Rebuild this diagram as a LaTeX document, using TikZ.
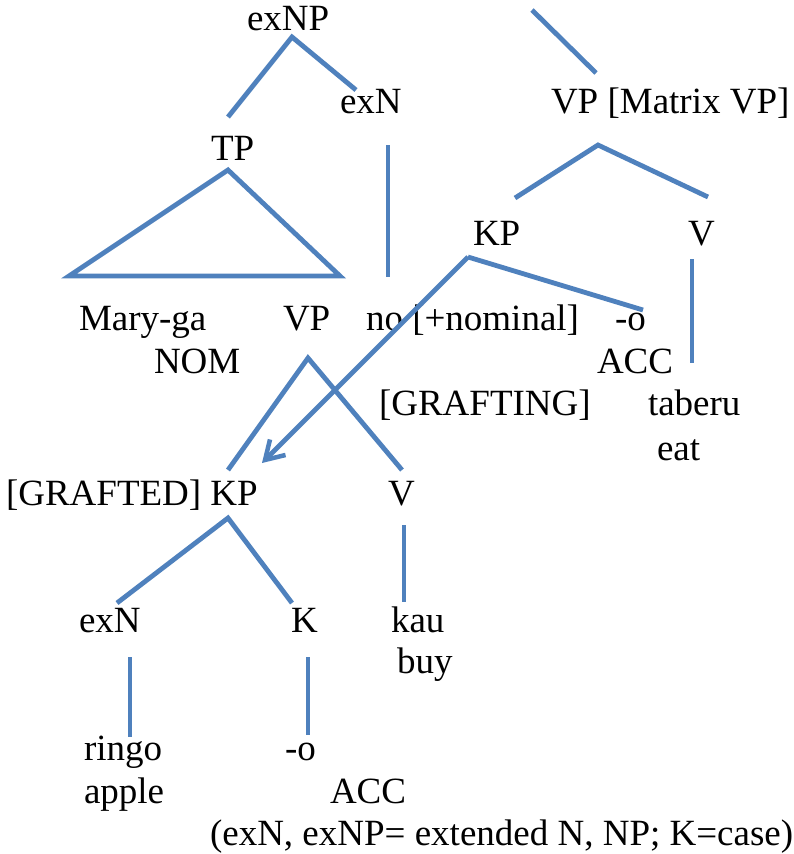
\documentclass[tikz,border=0pt]{standalone}
\usepackage{fontspec}
\setmainfont{Liberation Serif}
\usetikzlibrary{arrows.meta}
\definecolor{branch}{HTML}{4F81BD}
\tikzset{
  lbl/.style={anchor=base west, inner sep=0pt, outer sep=0pt, font=\fontsize{37}{44}\selectfont},
  br/.style={draw=branch, line width=4.8pt},
}
\begin{document}
\begin{tikzpicture}[x=1pt,y=-1pt]
\useasboundingbox[fill=white] (0,0) rectangle (794,854);
% labels
\node[lbl] (exNP) at (247,30) {exNP};
\node[lbl] (exNu) at (340,113) {exN};
\node[lbl] (VPm) at (551,113) {VP [Matrix VP]};
\node[lbl] (TP) at (211,160) {TP};
\node[lbl] (KPu) at (473,245) {KP};
\node[lbl] (Vu) at (688,245) {V};
\node[lbl] (Mary) at (79,330) {Mary-ga};
\node[lbl] (VPe) at (283,330) {VP};
\node[lbl] (no) at (366,330) {no [+nominal]};
\node[lbl] (ou) at (615,330) {-o};
\node[lbl] (NOM) at (154,373) {NOM};
\node[lbl] (ACCu) at (597,373) {ACC};
\node[lbl] (grafting) at (379,415) {[GRAFTING]};
\node[lbl] (taberu) at (648,415) {taberu};
\node[lbl] (eat) at (657,460) {eat};
\node[lbl] (KPl) at (6,505) {[GRAFTED] KP};
\node[lbl] (Vl) at (388,505) {V};
\node[lbl] (exNl) at (79,632) {exN};
\node[lbl] (K) at (291,632) {K};
\node[lbl] (kau) at (391,632) {kau};
\node[lbl] (buy) at (397,673) {buy};
\node[lbl] (ringo) at (84,760) {ringo};
\node[lbl] (apple) at (84,803) {apple};
\node[lbl] (ol) at (285,760) {-o};
\node[lbl] (ACCl) at (330,803) {ACC};
\node[lbl] (note) at (210,845) {(exN, exNP= extended N, NP; K=case)};
% branch end points
\coordinate (exNP-b) at (292,37);
\coordinate (TP-t) at (228,117);
\coordinate (exNu-t) at (356,90);
\coordinate (up-a) at (532,10);
\coordinate (up-b) at (596,73);
\coordinate (exNu-b) at (388,145);
\coordinate (no-t) at (388,277);
\coordinate (VPm-b) at (598,145);
\coordinate (KPu-t) at (515,198);
\coordinate (Vu-t) at (708,197);
\coordinate (TP-b) at (228,170);
\coordinate (Mary-t) at (69,276);
\coordinate (VPe-t) at (340,276);
\coordinate (KPu-b) at (468,257);
\coordinate (ou-t) at (643,310);
\coordinate (graft-tip) at (262,463);
\coordinate (Vu-b) at (692,259);
\coordinate (taberu-t) at (692,363);
\coordinate (VPe-b) at (308,358);
\coordinate (KPl-t) at (228,470);
\coordinate (Vl-t) at (402,470);
\coordinate (KPl-b) at (228,518);
\coordinate (exNl-t) at (117,603);
\coordinate (K-t) at (292,603);
\coordinate (Vl-b) at (404,525);
\coordinate (kau-t) at (404,602);
\coordinate (exNl-b) at (130,657);
\coordinate (ringo-t) at (130,737);
\coordinate (K-b) at (308,657);
\coordinate (ol-t) at (308,735);
% branches
\draw[br] (TP-t) -- (exNP-b) -- (exNu-t);
\draw[br] (up-a) -- (up-b);
\draw[br] (exNu-b) -- (no-t);
\draw[br] (KPu-t) -- (VPm-b) -- (Vu-t);
\draw[br] (TP-b) -- (Mary-t) -- (VPe-t) -- cycle;
\draw[br] (KPu-b) -- (ou-t);
\draw[br, -{Straight Barb[length=18pt,width=22pt,line width=4.5pt]}] (KPu-b) -- (graft-tip);
\draw[br] (Vu-b) -- (taberu-t);
\draw[br] (KPl-t) -- (VPe-b) -- (Vl-t);
\draw[br] (exNl-t) -- (KPl-b) -- (K-t);
\draw[br] (Vl-b) -- (kau-t);
\draw[br] (exNl-b) -- (ringo-t);
\draw[br] (K-b) -- (ol-t);
\end{tikzpicture}
\end{document}
